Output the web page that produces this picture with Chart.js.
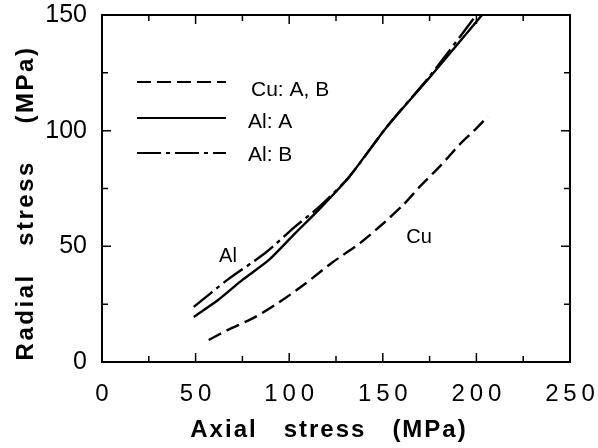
<!DOCTYPE html>
<html>
<head>
<meta charset="utf-8">
<script src="https://cdn.jsdelivr.net/npm/chart.js@4/dist/chart.umd.min.js"></script>
<style>
  html, body { margin: 0; padding: 0; background: #fff; }
  #wrap { width: 598px; height: 448px; }
</style>
</head>
<body>
<div id="wrap"><canvas id="chart"></canvas></div>
<script>
// values (MPa)
const cuX = [57, 67, 82, 98, 108, 123, 138, 149, 161, 170, 181, 191, 200, 206];
const cuY = [9.5, 13.8, 19.5, 27.7, 33.5, 43, 51.5, 59, 68, 76, 85, 94, 101, 106];

const alAX = [49, 62, 75, 89, 103, 116, 132, 152, 175, 203];
const alAY = [19.5, 26.8, 35.5, 44, 55.5, 66, 80, 101.5, 123, 150];

const alBX = [49, 67, 87, 103, 116, 132, 152, 175, 200];
const alBY = [23.8, 35.5, 47, 58.4, 67, 80, 101.5, 123.5, 150];

const xTicks = [0, 50, 100, 150, 200, 250];
const yTicks = [0, 50, 100, 150];

const seriesNames = ['Cu: A, B', 'Al: A', 'Al: B'];
const dashes = [[14, 6], [], [24, 5, 4, 5]];

function pts(xs, ys) {
  return xs.map((x, i) => ({ x: x, y: ys[i] }));
}

const FONT = '"Liberation Sans", Arial, Helvetica, sans-serif';

// frame, inward ticks, legend, labels and axis titles
const decor = {
  id: 'decor',
  afterDraw(chart) {
    const ctx = chart.ctx;
    const a = chart.chartArea;
    const xs = chart.scales.x, ys = chart.scales.y;
    ctx.save();
    ctx.strokeStyle = '#000';
    ctx.lineWidth = 2;
    ctx.strokeRect(a.left, a.top, a.right - a.left, a.bottom - a.top);

    ctx.lineWidth = 1.5;
    for (let v = 0; v <= 250; v += 25) {
      const px = xs.getPixelForValue(v);
      const len = v % 50 === 0 ? 9 : 6;
      ctx.beginPath();
      ctx.moveTo(px, a.bottom); ctx.lineTo(px, a.bottom - len);
      ctx.moveTo(px, a.top); ctx.lineTo(px, a.top + len);
      ctx.stroke();
    }
    for (let v = 0; v <= 150; v += 25) {
      const py = ys.getPixelForValue(v);
      const len = v % 50 === 0 ? 9 : 6;
      ctx.beginPath();
      ctx.moveTo(a.left, py); ctx.lineTo(a.left + len, py);
      ctx.moveTo(a.right, py); ctx.lineTo(a.right - len, py);
      ctx.stroke();
    }

    // legend
    const legY = [82, 118, 153];
    const textY = [90, 122, 155];
    ctx.lineWidth = 2.2;
    for (let i = 0; i < 3; i++) {
      ctx.setLineDash(dashes[i]);
      ctx.beginPath();
      ctx.moveTo(137, legY[i]); ctx.lineTo(226, legY[i]);
      ctx.stroke();
    }
    ctx.setLineDash([]);
    ctx.fillStyle = '#000';
    ctx.font = '21px ' + FONT;
    ctx.textBaseline = 'middle';
    ctx.textAlign = 'left';
    ctx.fillText(seriesNames[0], 251, textY[0]);
    ctx.fillText(seriesNames[1], 248, textY[1]);
    ctx.fillText(seriesNames[2], 248, textY[2]);

    ctx.font = '20px ' + FONT;
    ctx.textAlign = 'center';
    ctx.fillText('Al', 228, 256);
    ctx.fillText('Cu', 419, 237);

    // axis titles
    ctx.font = 'bold 24px ' + FONT;
    ctx.letterSpacing = '2px';
    ctx.textBaseline = 'alphabetic';
    ctx.fillText('Axial   stress   (MPa)', 329, 437);
    ctx.translate(33, 203);
    ctx.rotate(-Math.PI / 2);
    ctx.letterSpacing = '2.5px';
    ctx.fillText('Radial   stress    (MPa)', 0, 0);
    ctx.restore();
  }
};

new Chart(document.getElementById('chart'), {
  type: 'line',
  data: {
    datasets: [
      { label: seriesNames[0], data: pts(cuX, cuY), borderDash: dashes[0] },
      { label: seriesNames[1], data: pts(alAX, alAY), borderDash: dashes[1] },
      { label: seriesNames[2], data: pts(alBX, alBY), borderDash: dashes[2] }
    ].map(d => Object.assign(d, {
      borderColor: '#000',
      borderWidth: 2.4,
      pointRadius: 0,
      tension: 0.25,
      fill: false
    }))
  },
  options: {
    responsive: true,
    maintainAspectRatio: false,
    animation: false,
    layout: { padding: 0 },
    plugins: { legend: { display: false }, tooltip: { enabled: false } },
    scales: {
      x: {
        type: 'linear', min: 0, max: 250,
        afterBuildTicks: s => { s.ticks = xTicks.map(v => ({ value: v })); },
        afterFit: s => { s.height = 86; s.paddingLeft = 0; s.paddingRight = 28; },
        grid: { display: false, drawTicks: false },
        border: { display: false },
        ticks: {
          padding: 18, color: '#000',
          font: { family: FONT, size: 24 },
          maxRotation: 0,
          callback: v => String(v).split('').join('\u2009')
        }
      },
      y: {
        type: 'linear', min: 0, max: 150,
        afterBuildTicks: s => { s.ticks = yTicks.map(v => ({ value: v })); },
        afterFit: s => { s.width = 102; s.paddingTop = 15; s.paddingBottom = 0; },
        grid: { display: false, drawTicks: false },
        border: { display: false },
        ticks: {
          padding: 15, color: '#000',
          font: { family: FONT, size: 25 }
        }
      }
    }
  },
  plugins: [decor]
});
</script>
</body>
</html>
